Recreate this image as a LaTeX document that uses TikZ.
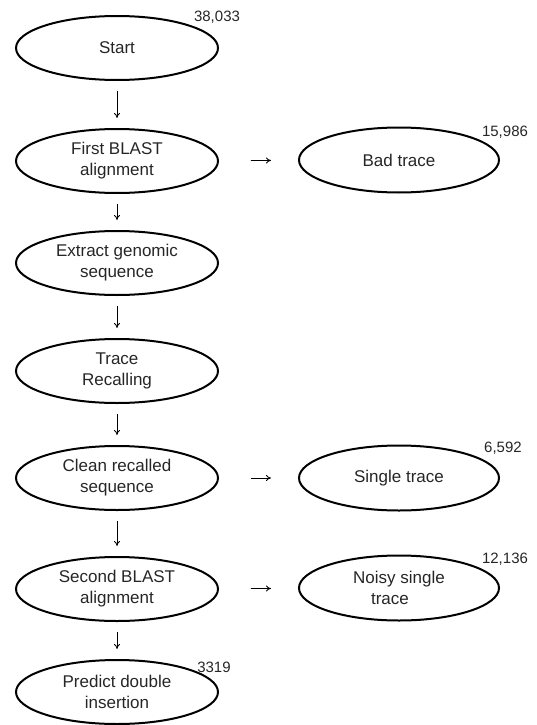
\documentclass[tikz,border=0pt]{standalone}
\usepackage{fontspec}
\setmainfont{Liberation Sans}
\usetikzlibrary{shapes.geometric,arrows.meta}
\begin{document}
\begin{tikzpicture}[x=1pt,y=1pt,
  stepnode/.style={draw, ellipse, line width=2pt, minimum width=202pt, minimum height=64pt,
    inner sep=0pt, align=center, font=\fontsize{17}{21}\selectfont, text=black!85},
  sidenode/.style={stepnode, minimum width=200pt, minimum height=65pt},
  count/.style={font=\fontsize{15}{18}\selectfont, text=black!85, inner sep=0pt},
  down/.style={-{To[length=5pt,width=6pt]}, line width=0.8pt, shorten <=10pt, shorten >=10pt},
  side/.style={-{To[length=5pt,width=6pt]}, line width=0.8pt, shorten <=32pt, shorten >=27pt}]
\useasboundingbox (0,0) rectangle (537,-725);
\node[stepnode] (start) at (117,-48) {Start};
\node[stepnode] (first) at (117,-161) {First BLAST\\alignment};
\node[stepnode] (extract) at (117,-263) {Extract genomic\\sequence};
\node[stepnode] (trace) at (117,-371) {Trace\\Recalling};
\node[stepnode] (clean) at (117,-478) {Clean recalled\\sequence};
\node[stepnode] (second) at (117,-589) {Second BLAST\\alignment};
\node[stepnode] (predict) at (117,-692) {Predict double\\insertion};
\node[sidenode] (bad) at (399,-160) {Bad trace};
\node[sidenode] (single) at (399,-478) {Single trace};
\node[sidenode] (noisy) at (399,-588) {Noisy single\\\hspace*{-18pt}trace};
\node[count] (n1) at (217,-17) {38,033};
\node[count] (n2) at (505,-132) {15,986};
\node[count] (n3) at (503,-448) {6,592};
\node[count] (n4) at (505,-559) {12,136};
\node[count] (n5) at (214,-667) {3319};
\draw[down] (start) -- (first);
\draw[down] (first) -- (extract);
\draw[down] (extract) -- (trace);
\draw[down] (trace) -- (clean);
\draw[down] (clean) -- (second);
\draw[down] (second) -- (predict);
\draw[side] (first) -- (bad);
\draw[side] (clean) -- (single);
\draw[side] (second) -- (noisy);
\end{tikzpicture}
\end{document}
